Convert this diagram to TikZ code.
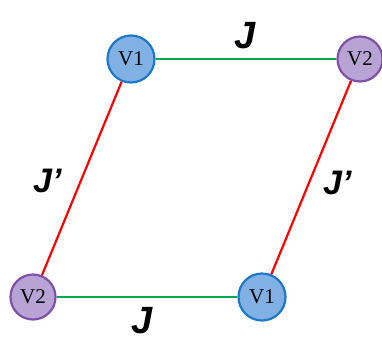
\documentclass[tikz,border=0pt]{standalone}
\usepackage{fontspec}
\setmainfont{Liberation Serif}
\setsansfont{Liberation Sans}
\usetikzlibrary{positioning}
\definecolor{vonefill}{RGB}{128,176,228}
\definecolor{vonedraw}{RGB}{30,120,200}
\definecolor{vtwofill}{RGB}{184,164,212}
\definecolor{vtwodraw}{RGB}{128,80,168}
\definecolor{jgreen}{RGB}{0,168,80}
\definecolor{jred}{RGB}{255,0,0}
\tikzset{
  vone/.style ={draw=vonedraw, circle, minimum size=47pt, inner sep=0pt,
                fill=vonefill, line width=2.2pt, font=\fontsize{21}{21}\selectfont},
  vtwo/.style ={draw=vtwodraw, circle, minimum size=45pt, inner sep=0pt,
                fill=vtwofill, line width=2.2pt, font=\fontsize{21}{21}\selectfont},
  bondJ/.style ={line width=2.6pt, jgreen},
  bondJp/.style={line width=2.2pt, jred},
  jlbl/.style  ={inner sep=0pt, anchor=base,
                 font=\sffamily\bfseries\itshape\fontsize{38}{38}\selectfont},
  jplbl/.style ={inner sep=0pt, anchor=base west,
                 font=\sffamily\bfseries\itshape\fontsize{34}{34}\selectfont},
}
\begin{document}
\begin{tikzpicture}[x=1pt, y=-1pt]
  \useasboundingbox (0,0) rectangle (382,338);
  % ---- sites of the cell
  \node[vone] (a1) at (131,59)  {V1};
  \node[vtwo] (b1) at (360,59)  {V2};
  \node[vtwo] (b2) at (33,297)  {V2};
  \node[vone] (a2) at (262,297) {V1};
  % ---- bonds
  \draw[bondJ]  (a1) -- (b1);
  \draw[bondJ]  (b2) -- (a2);
  \draw[bondJp] (a1) -- (b2);
  \draw[bondJp] (b1) -- (a2);
  % ---- couplings
  \node[jlbl] (j1) at (245,48)  {J};
  \node[jlbl] (j2) at (142,333) {J};
  \node[jplbl] (jp1) at (33,192) {J\char"0027};
  \node[jplbl] (jp2) at (323,194) {J\char"0027};
\end{tikzpicture}
\end{document}
